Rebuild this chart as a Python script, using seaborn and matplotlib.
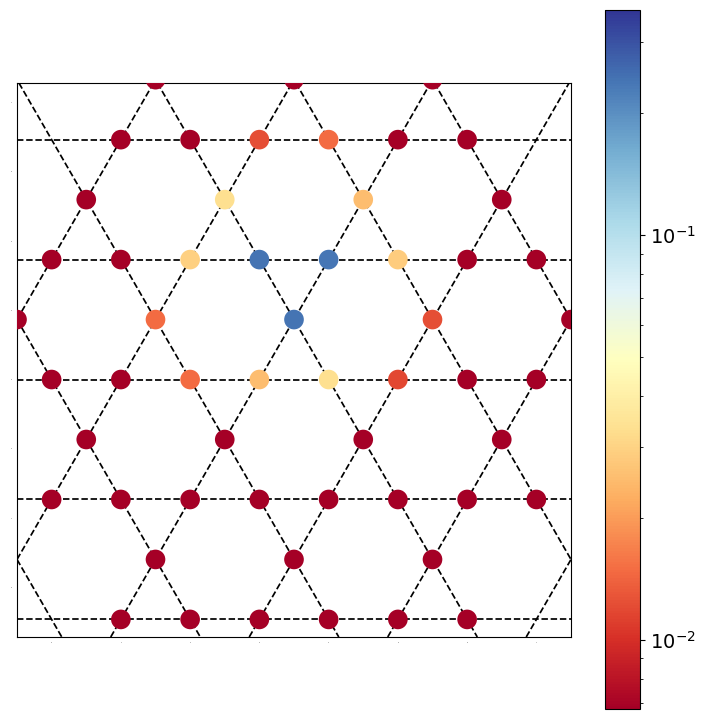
import numpy as np
import pandas as pd
import matplotlib
matplotlib.use("Agg")
import matplotlib.pyplot as plt
import seaborn as sns
from matplotlib.colors import LogNorm

# kagome sites: x position, row index (rows are sqrt(3)/2 apart), value
low = 0.0068
site_x = [1.5, 3.5, 5.5,
          1, 2, 3, 4, 5, 6,
          0.5, 2.5, 4.5, 6.5,
          0, 1, 2, 3, 4, 5, 6, 7,
          -0.5, 1.5, 3.5, 5.5, 7.5,
          0, 1, 2, 3, 4, 5, 6, 7,
          0.5, 2.5, 4.5, 6.5,
          0, 1, 2, 3, 4, 5, 6, 7,
          1.5, 3.5, 5.5,
          1, 2, 3, 4, 5, 6]
site_row = [5, 5, 5,
            4, 4, 4, 4, 4, 4,
            3, 3, 3, 3,
            2, 2, 2, 2, 2, 2, 2, 2,
            1, 1, 1, 1, 1,
            0, 0, 0, 0, 0, 0, 0, 0,
            -1, -1, -1, -1,
            -2, -2, -2, -2, -2, -2, -2, -2,
            -3, -3, -3,
            -4, -4, -4, -4, -4, -4]
site_val = [low, low, low,
            low, low, 0.0122, 0.0149, low, low,
            low, 0.0331, 0.0251, low,
            low, low, 0.0294, 0.2415, 0.24, 0.0282, low, low,
            low, 0.0149, 0.2415, 0.0122, low,
            low, low, 0.0149, 0.0251, 0.0331, 0.0118, low, low,
            low, low, low, low,
            low, low, low, low, low, low, low, low,
            low, low, low,
            low, low, low, low, low, low]

# lattice lines
h_rows = [-4, -2, 0, 2, 4]
up_lines = [-3, -1, 1, 3, 5, 7, 9]     # slope +sqrt(3), crossing row 0 at x
down_lines = [-2, 0, 2, 4, 6, 8, 10]   # slope -sqrt(3)

vmin, vmax = 0.00675, 0.36
h = np.sqrt(3) / 2

df = pd.DataFrame({"x": site_x,
                   "y": 3 + np.array(site_row) * h,
                   "val": site_val})

fig = plt.figure(figsize=(7.2, 7.2), dpi=100)
ax = fig.add_axes([17/720, 83/720, 554/720, 554/720])
cax = fig.add_axes([605/720, 11/720, 35/720, 699/720])

for r in h_rows:
    ax.axhline(3 + r * h, color="black", ls="--", lw=1.25, zorder=1)
for x0 in up_lines:
    ax.axline((x0, 3), slope=np.sqrt(3), color="black", ls="--", lw=1.25, zorder=1)
for x0 in down_lines:
    ax.axline((x0, 3), slope=-np.sqrt(3), color="black", ls="--", lw=1.25, zorder=1)

norm = LogNorm(vmin=vmin, vmax=vmax)
sns.scatterplot(data=df, x="x", y="y", hue="val", palette="RdYlBu",
                hue_norm=norm, s=200, linewidth=0, legend=False, ax=ax, zorder=3)

ax.set_xlim(-0.5, 7.5)
ax.set_ylim(-0.718, 7.282)
ax.set_xticks(range(8))
ax.set_yticks(range(8))
ax.tick_params(length=0, labelsize=1)
ax.set_xlabel("")
ax.set_ylabel("")

sm = plt.cm.ScalarMappable(norm=norm, cmap="RdYlBu")
cb = fig.colorbar(sm, cax=cax)
cb.ax.tick_params(labelsize=14)

fig.savefig("out.png", dpi=100)
